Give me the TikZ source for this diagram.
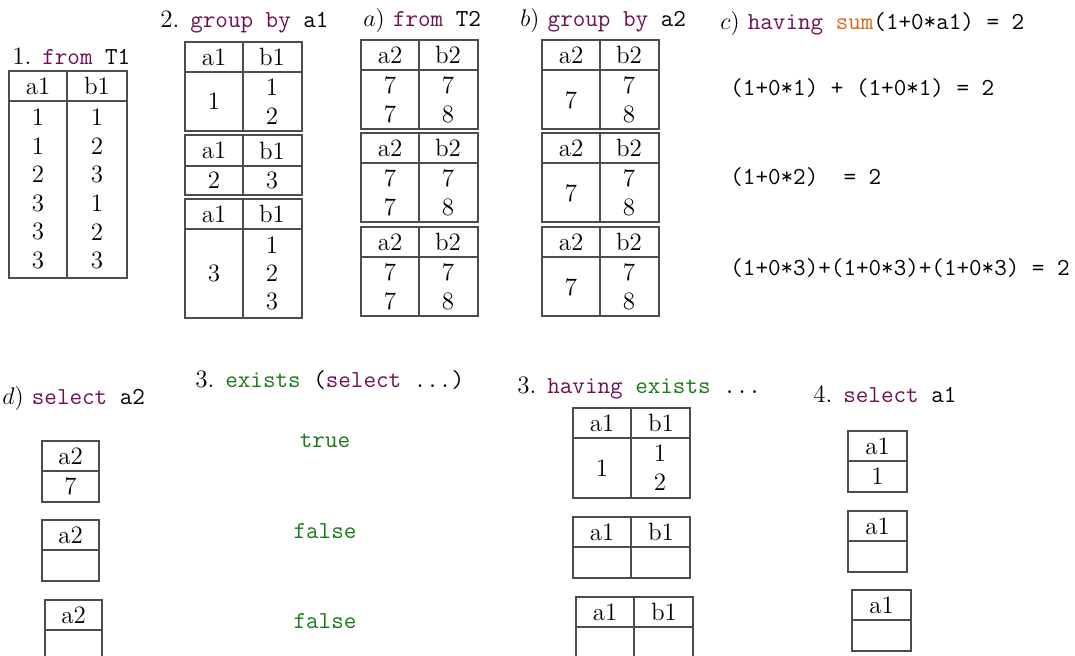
\documentclass[tikz,border=0pt]{standalone}
\usepackage{fontspec}
\usepackage{xcolor}

\definecolor{kwcol}{RGB}{110,16,82}
\definecolor{excol}{RGB}{25,120,25}
\definecolor{fncol}{RGB}{215,105,25}

% sql snippets
\newcommand\code[1]{{\fontsize{12.2}{14}\selectfont\ttfamily #1}}
\newcommand\kw[1]{\textcolor{kwcol}{\code{#1}}}
\newcommand\ex[1]{\textcolor{excol}{\code{#1}}}
\newcommand\fn[1]{\textcolor{fncol}{\code{#1}}}

\tikzset{
  tbl/.style={draw=black!70, line width=0.7pt},
  title/.style={anchor=west, inner sep=0pt},
}

\begin{document}
\begin{tikzpicture}[x=0.5pt, y=-0.5pt, font=\fontsize{12.5}{15}\selectfont]

  \useasboundingbox (0,0) rectangle (1075,655);
  \clip (0,0) rectangle (1075,655);

  % 1. from T1
  \node[title] (s1) at (12,56) {1. \kw{from}\code{ T1}};
  \draw[tbl] (9,71) rectangle (127,278);
  \draw[tbl] (9,101) -- (127,101) (67,71) -- (67,278);
  \node (t1h1) at (38,86) {a1};
  \node (t1h2) at (97,86) {b1};
  \foreach \a/\b [count=\i] in {1/1,1/2,2/3,3/1,3/2,3/3} {
    \node (t1a\i) at (38,{117+(\i-1)*28.7}) {\a};
    \node (t1b\i) at (97,{117+(\i-1)*28.7}) {\b};
  }

  % 2. group by a1
  \node[title] (s2) at (160,22) {2. \kw{group by}\code{ a1}};
  \foreach \t/\h/\e [count=\k] in {42/72/131,135/166/195,199/229/318} {
    \draw[tbl] (185,\t) rectangle (302,\e);
    \draw[tbl] (185,\h) -- (302,\h) (243,\t) -- (243,\e);
    \node (g\k h1) at (214,{(\t+\h)/2}) {a1};
    \node (g\k h2) at (272,{(\t+\h)/2}) {b1};
  }
  \node (g1a) at (214,101) {1};
  \node (g1b1) at (272,87) {1};
  \node (g1b2) at (272,116) {2};
  \node (g2a) at (214,180) {2};
  \node (g2b) at (272,180) {3};
  \node (g3a) at (214,273) {3};
  \node (g3b1) at (272,245) {1};
  \node (g3b2) at (272,273) {2};
  \node (g3b3) at (272,301) {3};

  % a) from T2, once per group
  \node[title] (sa) at (363,20) {$a)$ \kw{from}\code{ T2}};
  \foreach \t [count=\k] in {40,133,227} {
    \draw[tbl] (361,\t) rectangle (478,{\t+89});
    \draw[tbl] (361,{\t+30}) -- (478,{\t+30}) (419,\t) -- (419,{\t+89});
    \node (fa\k h1) at (390,{\t+15}) {a2};
    \node (fa\k h2) at (448,{\t+15}) {b2};
    \node (fa\k a1) at (390,{\t+45}) {7};
    \node (fa\k b1) at (448,{\t+45}) {7};
    \node (fa\k a2) at (390,{\t+74}) {7};
    \node (fa\k b2) at (448,{\t+74}) {8};
  }

  % b) group by a2
  \node[title] (sb) at (520,20) {$b)$ \kw{group by}\code{ a2}};
  \foreach \t [count=\k] in {40,133,227} {
    \draw[tbl] (542,\t) rectangle (659,{\t+89});
    \draw[tbl] (542,{\t+30}) -- (659,{\t+30}) (600,\t) -- (600,{\t+89});
    \node (gb\k h1) at (571,{\t+15}) {a2};
    \node (gb\k h2) at (629,{\t+15}) {b2};
    \node (gb\k a) at (571,{\t+60}) {7};
    \node (gb\k b1) at (629,{\t+45}) {7};
    \node (gb\k b2) at (629,{\t+74}) {8};
  }

  % c) having sum(...)
  \node[title] (sc) at (720,23) {$c)$ \kw{having}\code{ }\fn{sum}\code{(1+0*a1) = 2}};
  \node[title] (c1) at (730,88) {\code{(1+0*1) + (1+0*1) = 2}};
  \node[title] (c2) at (730,177) {\code{(1+0*2)\ \ = 2}};
  \node[title] (c3) at (730,268) {\code{(1+0*3)+(1+0*3)+(1+0*3) = 2}};

  % d) select a2
  \node[title] (sd) at (2,398) {$d)$ \kw{select}\code{ a2}};
  \foreach \x/\t/\v [count=\k] in {42/441/7,42/520/,45/600/} {
    \draw[tbl] (\x,\t) rectangle ({\x+57},{\t+61});
    \draw[tbl] (\x,{\t+30}) -- ({\x+57},{\t+30});
    \node (d\k h) at ({\x+28.5},{\t+15}) {a2};
    \node (d\k v) at ({\x+28.5},{\t+45}) {\v};
  }

  % 3. exists (select ...)
  \node[title] (s3) at (195,380) {3. \ex{exists}\code{ (}\kw{select}\code{ ...)}};
  \node (e1) at (325,441) {\ex{true}};
  \node (e2) at (325,531) {\ex{false}};
  \node (e3) at (325,621) {\ex{false}};

  % 3. having exists ...
  \node[title] (s3h) at (517,388) {3. \kw{having}\code{ }\ex{exists}\code{ ...}};
  \foreach \x/\t/\e [count=\k] in {573/408/498,573/517/578,576/597/688} {
    \draw[tbl] (\x,\t) rectangle ({\x+117},\e);
    \draw[tbl] (\x,{\t+30}) -- ({\x+117},{\t+30}) ({\x+58},\t) -- ({\x+58},\e);
    \node (h\k h1) at ({\x+29},{\t+15}) {a1};
    \node (h\k h2) at ({\x+88},{\t+15}) {b1};
  }
  \node (h1a) at (602,468) {1};
  \node (h1b1) at (660,453) {1};
  \node (h1b2) at (660,482) {2};

  % 4. select a1
  \node[title] (s4) at (813,394) {4. \kw{select}\code{ a1}};
  \foreach \x/\t/\v [count=\k] in {848/431/1,848/511/,852/590/} {
    \draw[tbl] (\x,\t) rectangle ({\x+59},{\t+61});
    \draw[tbl] (\x,{\t+30}) -- ({\x+59},{\t+30});
    \node (r\k h) at ({\x+29.5},{\t+15}) {a1};
    \node (r\k v) at ({\x+29.5},{\t+45}) {\v};
  }

\end{tikzpicture}
\end{document}
